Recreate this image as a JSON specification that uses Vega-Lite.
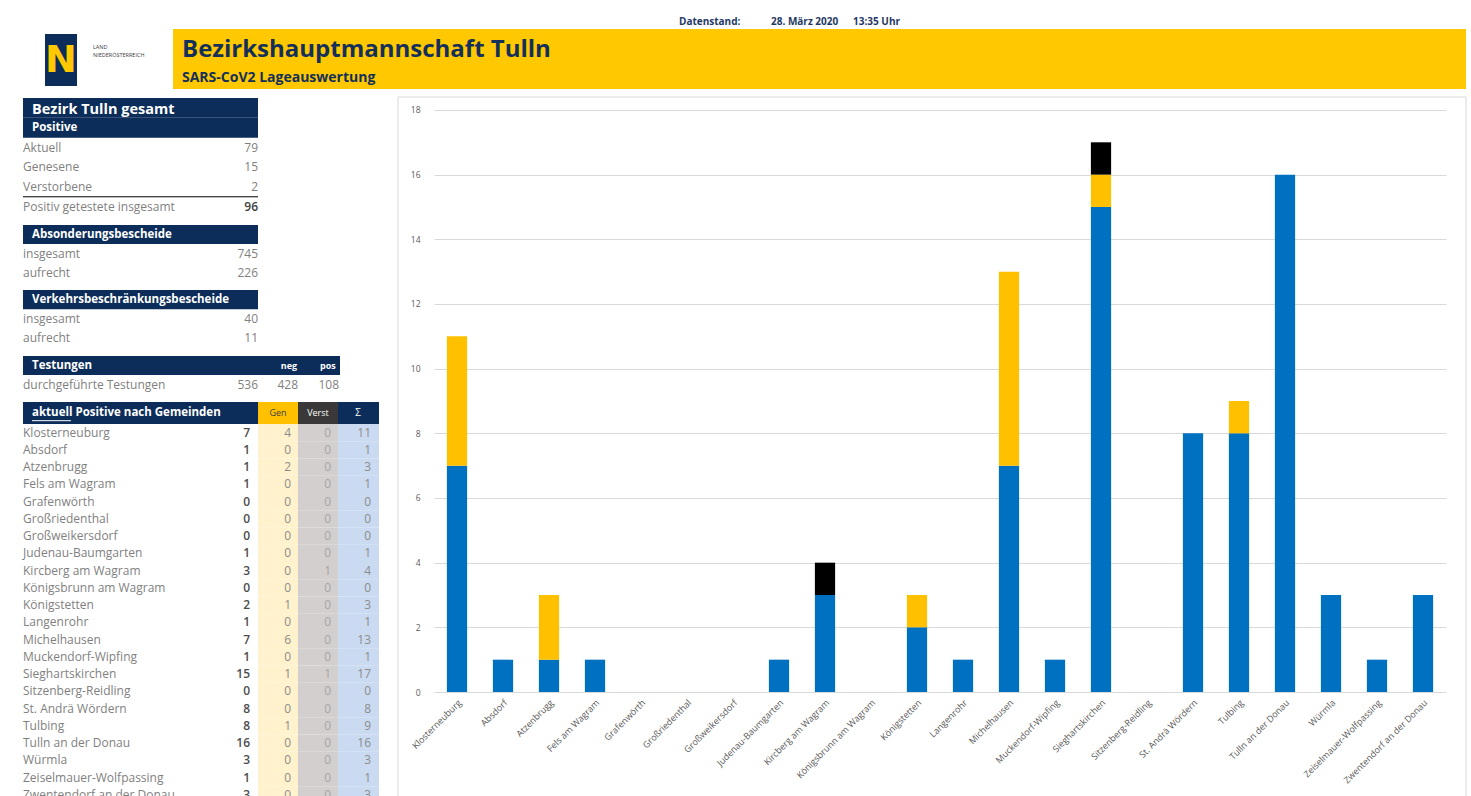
{
  "$schema": "https://vega.github.io/schema/vega-lite/v6.json",
  "padding": 0,
  "background": "white",
  "bounds": "flush",
  "spacing": 0,
  "config": {"view": {"stroke": null}, "font": "Open Sans"},
  "datasets": {
    "kopf": [
      {"role": "title", "text": "Bezirkshauptmannschaft Tulln"},
      {"role": "subtitle", "text": "SARS-CoV2 Lageauswertung"},
      {"role": "standlabel", "text": "Datenstand:"},
      {"role": "datum", "text": "28. März 2020"},
      {"role": "zeit", "text": "13:35 Uhr"},
      {"role": "logo", "text": "N"},
      {"role": "land1", "text": "LAND"},
      {"role": "land2", "text": "NIEDERÖSTERREICH"}
    ],
    "summary": [
      {"sec": "A", "id": "A1", "label": "Bezirk Tulln gesamt", "kind": "title"},
      {"sec": "A", "id": "A2", "label": "Positive", "kind": "head"},
      {"sec": "A", "id": "A3", "label": "Aktuell", "value": 79, "kind": "item"},
      {"sec": "A", "id": "A4", "label": "Genesene", "value": 15, "kind": "item"},
      {"sec": "A", "id": "A5", "label": "Verstorbene", "value": 2, "kind": "item"},
      {"sec": "A", "id": "A6", "label": "Positiv getestete insgesamt", "value": 96, "kind": "total"},
      {"sec": "B", "id": "B1", "label": "Absonderungsbescheide", "kind": "head"},
      {"sec": "B", "id": "B2", "label": "insgesamt", "value": 745, "kind": "item"},
      {"sec": "B", "id": "B3", "label": "aufrecht", "value": 226, "kind": "item"},
      {"sec": "C", "id": "C1", "label": "Verkehrsbeschränkungsbescheide", "kind": "head"},
      {"sec": "C", "id": "C2", "label": "insgesamt", "value": 40, "kind": "item"},
      {"sec": "C", "id": "C3", "label": "aufrecht", "value": 11, "kind": "item"},
      {"sec": "D", "id": "D1", "label": "Testungen", "kind": "head"},
      {"sec": "D", "id": "D2", "label": "durchgeführte Testungen", "value": 536, "neg": 428, "pos": 108, "kind": "item"},
      {"sec": "E", "id": "E1", "label": "aktuell Positive nach Gemeinden", "kind": "head"}
    ],
    "gemeinden": [
      {"name": "Klosterneuburg", "akt": 7, "gen": 4, "verst": 0, "sum": 11},
      {"name": "Absdorf", "akt": 1, "gen": 0, "verst": 0, "sum": 1},
      {"name": "Atzenbrugg", "akt": 1, "gen": 2, "verst": 0, "sum": 3},
      {"name": "Fels am Wagram", "akt": 1, "gen": 0, "verst": 0, "sum": 1},
      {"name": "Grafenwörth", "akt": 0, "gen": 0, "verst": 0, "sum": 0},
      {"name": "Großriedenthal", "akt": 0, "gen": 0, "verst": 0, "sum": 0},
      {"name": "Großweikersdorf", "akt": 0, "gen": 0, "verst": 0, "sum": 0},
      {"name": "Judenau-Baumgarten", "akt": 1, "gen": 0, "verst": 0, "sum": 1},
      {"name": "Kircberg am Wagram", "akt": 3, "gen": 0, "verst": 1, "sum": 4},
      {"name": "Königsbrunn am  Wagram", "akt": 0, "gen": 0, "verst": 0, "sum": 0},
      {"name": "Königstetten", "akt": 2, "gen": 1, "verst": 0, "sum": 3},
      {"name": "Langenrohr", "akt": 1, "gen": 0, "verst": 0, "sum": 1},
      {"name": "Michelhausen", "akt": 7, "gen": 6, "verst": 0, "sum": 13},
      {"name": "Muckendorf-Wipfing", "akt": 1, "gen": 0, "verst": 0, "sum": 1},
      {"name": "Sieghartskirchen", "akt": 15, "gen": 1, "verst": 1, "sum": 17},
      {"name": "Sitzenberg-Reidling", "akt": 0, "gen": 0, "verst": 0, "sum": 0},
      {"name": "St. Andrä Wördern", "akt": 8, "gen": 0, "verst": 0, "sum": 8},
      {"name": "Tulbing", "akt": 8, "gen": 1, "verst": 0, "sum": 9},
      {"name": "Tulln an der Donau", "akt": 16, "gen": 0, "verst": 0, "sum": 16},
      {"name": "Würmla", "akt": 3, "gen": 0, "verst": 0, "sum": 3},
      {"name": "Zeiselmauer-Wolfpassing", "akt": 1, "gen": 0, "verst": 0, "sum": 1},
      {"name": "Zwentendorf an der Donau", "akt": 3, "gen": 0, "verst": 0, "sum": 3}
    ]
  },
  "vconcat": [
    {
      "width": 1471,
      "height": 98,
      "data": {"name": "kopf"},
      "layer": [
        {
          "transform": [{"filter": "datum.role == 'title'"}],
          "mark": {"type": "rect", "filled": false, "stroke": "#d9d9d9", "strokeWidth": 1},
          "encoding": {
            "x": {"datum": 398, "type": "quantitative", "scale": {"domain": [0, 1471], "nice": false, "zero": false}, "axis": null},
            "x2": {"datum": 1466},
            "y": {"datum": 97, "type": "quantitative", "scale": {"domain": [0, 98], "nice": false, "zero": false, "reverse": true}, "axis": null},
            "y2": {"datum": 800}
          }
        },
        {
          "transform": [{"filter": "datum.role == 'title'"}],
          "mark": {"type": "rect", "fill": "#FFC800"},
          "encoding": {
            "x": {"datum": 173, "type": "quantitative"},
            "x2": {"datum": 1466},
            "y": {"datum": 29, "type": "quantitative"},
            "y2": {"datum": 89}
          }
        },
        {
          "transform": [{"filter": "datum.role == 'logo'"}],
          "mark": {"type": "rect", "fill": "#0c2d5a"},
          "encoding": {
            "x": {"datum": 45, "type": "quantitative"},
            "x2": {"datum": 77},
            "y": {"datum": 34, "type": "quantitative"},
            "y2": {"datum": 86}
          }
        },
        {
          "transform": [{"filter": "datum.role == 'logo'"}],
          "mark": {"type": "text", "color": "#FFC800", "fontSize": 38, "fontWeight": "bold", "align": "center", "baseline": "middle", "font": "DejaVu Sans"},
          "encoding": {
            "x": {"datum": 61, "type": "quantitative"},
            "y": {"datum": 61, "type": "quantitative"},
            "text": {"field": "text"}
          }
        },
        {
          "transform": [{"filter": "datum.role == 'land1'"}],
          "mark": {"type": "text", "color": "#404040", "fontSize": 5.5, "align": "left", "baseline": "middle"},
          "encoding": {
            "x": {"datum": 93, "type": "quantitative"},
            "y": {"datum": 47, "type": "quantitative"},
            "text": {"field": "text"}
          }
        },
        {
          "transform": [{"filter": "datum.role == 'land2'"}],
          "mark": {"type": "text", "color": "#404040", "fontSize": 5.5, "align": "left", "baseline": "middle"},
          "encoding": {
            "x": {"datum": 93, "type": "quantitative"},
            "y": {"datum": 55, "type": "quantitative"},
            "text": {"field": "text"}
          }
        },
        {
          "transform": [{"filter": "datum.role == 'standlabel'"}],
          "mark": {"type": "text", "color": "#1f3864", "fontSize": 10, "fontWeight": "bold", "align": "left", "baseline": "middle"},
          "encoding": {
            "x": {"datum": 679, "type": "quantitative"},
            "y": {"datum": 22, "type": "quantitative"},
            "text": {"field": "text"}
          }
        },
        {
          "transform": [{"filter": "datum.role == 'datum'"}],
          "mark": {"type": "text", "color": "#1f3864", "fontSize": 10, "fontWeight": "bold", "align": "left", "baseline": "middle"},
          "encoding": {
            "x": {"datum": 771, "type": "quantitative"},
            "y": {"datum": 22, "type": "quantitative"},
            "text": {"field": "text"}
          }
        },
        {
          "transform": [{"filter": "datum.role == 'zeit'"}],
          "mark": {"type": "text", "color": "#1f3864", "fontSize": 10, "fontWeight": "bold", "align": "left", "baseline": "middle"},
          "encoding": {
            "x": {"datum": 853, "type": "quantitative"},
            "y": {"datum": 22, "type": "quantitative"},
            "text": {"field": "text"}
          }
        },
        {
          "transform": [{"filter": "datum.role == 'title'"}],
          "mark": {"type": "text", "color": "#14305a", "fontSize": 24, "fontWeight": "bold", "align": "left", "baseline": "middle"},
          "encoding": {
            "x": {"datum": 182, "type": "quantitative"},
            "y": {"datum": 50, "type": "quantitative"},
            "text": {"field": "text"}
          }
        },
        {
          "transform": [{"filter": "datum.role == 'subtitle'"}],
          "mark": {"type": "text", "color": "#14305a", "fontSize": 14, "fontWeight": "bold", "align": "left", "baseline": "middle"},
          "encoding": {
            "x": {"datum": 182, "type": "quantitative"},
            "y": {"datum": 78, "type": "quantitative"},
            "text": {"field": "text"}
          }
        }
      ]
    },
    {
      "spacing": 30,
      "bounds": "full",
      "hconcat": [
        {
          "spacing": 0,
          "bounds": "full",
          "vconcat": [
            {
              "spacing": 8,
              "bounds": "full",
              "vconcat": [
                {
                  "width": 380,
                  "height": 119,
                  "data": {"name": "summary"},
                  "transform": [{"filter": "datum.sec == 'A'"}],
                  "encoding": {"y": {"field": "id", "type": "nominal", "sort": null, "scale": {"type": "band", "domain": ["A1", "A2", "A3", "A4", "A5", "A6"], "paddingInner": 0, "paddingOuter": 0}, "axis": null}},
                  "layer": [
                    {
                      "transform": [{"filter": "datum.kind == 'title' || datum.kind == 'head'"}],
                      "mark": {"type": "rect", "fill": "#0c2d5a"},
                      "encoding": {"x": {"datum": 23, "type": "quantitative", "scale": {"domain": [0, 380], "nice": false, "zero": false}, "axis": null}, "x2": {"datum": 258}}
                    },
                    {
                      "transform": [{"filter": "datum.kind == 'title'"}],
                      "mark": {"type": "text", "color": "white", "fontSize": 14.5, "fontWeight": "bold", "align": "left", "baseline": "middle", "dy": 2},
                      "encoding": {"x": {"datum": 32, "type": "quantitative"}, "text": {"field": "label"}}
                    },
                    {
                      "transform": [{"filter": "datum.kind == 'head'"}],
                      "mark": {"type": "text", "color": "white", "fontSize": 11.5, "fontWeight": "bold", "align": "left", "baseline": "middle"},
                      "encoding": {"x": {"datum": 32, "type": "quantitative"}, "text": {"field": "label"}}
                    },
                    {
                      "transform": [{"filter": "datum.kind == 'item' || datum.kind == 'total'"}],
                      "mark": {"type": "text", "color": "#7f7f7f", "fontSize": 12, "align": "left", "baseline": "middle"},
                      "encoding": {"x": {"datum": 23, "type": "quantitative"}, "text": {"field": "label"}}
                    },
                    {
                      "transform": [{"filter": "datum.kind == 'item'"}],
                      "mark": {"type": "text", "color": "#7f7f7f", "fontSize": 12, "align": "right", "baseline": "middle"},
                      "encoding": {"x": {"datum": 258, "type": "quantitative"}, "text": {"field": "value"}}
                    },
                    {
                      "transform": [{"filter": "datum.kind == 'total'"}],
                      "mark": {"type": "text", "color": "#404040", "fontSize": 12, "fontWeight": 600, "align": "right", "baseline": "middle"},
                      "encoding": {"x": {"datum": 258, "type": "quantitative"}, "text": {"field": "value"}}
                    },
                    {
                      "transform": [{"filter": "datum.id == 'A5'"}],
                      "mark": {"type": "rule", "color": "#000000", "strokeWidth": 1},
                      "encoding": {"x": {"datum": 23, "type": "quantitative"}, "x2": {"datum": 258}, "y": {"field": "id", "type": "nominal", "bandPosition": 0.98}}
                    }
                  ]
                },
                {
                  "width": 380,
                  "height": 57,
                  "data": {"name": "summary"},
                  "transform": [{"filter": "datum.sec == 'B'"}],
                  "encoding": {"y": {"field": "id", "type": "nominal", "sort": null, "scale": {"type": "band", "domain": ["B1", "B2", "B3"], "paddingInner": 0, "paddingOuter": 0}, "axis": null}},
                  "layer": [
                    {
                      "transform": [{"filter": "datum.kind == 'head'"}],
                      "mark": {"type": "rect", "fill": "#0c2d5a"},
                      "encoding": {"x": {"datum": 23, "type": "quantitative", "scale": {"domain": [0, 380], "nice": false, "zero": false}, "axis": null}, "x2": {"datum": 258}}
                    },
                    {
                      "transform": [{"filter": "datum.kind == 'head'"}],
                      "mark": {"type": "text", "color": "white", "fontSize": 11.5, "fontWeight": "bold", "align": "left", "baseline": "middle"},
                      "encoding": {"x": {"datum": 32, "type": "quantitative"}, "text": {"field": "label"}}
                    },
                    {
                      "transform": [{"filter": "datum.kind == 'item'"}],
                      "mark": {"type": "text", "color": "#7f7f7f", "fontSize": 12, "align": "left", "baseline": "middle"},
                      "encoding": {"x": {"datum": 23, "type": "quantitative"}, "text": {"field": "label"}}
                    },
                    {
                      "transform": [{"filter": "datum.kind == 'item'"}],
                      "mark": {"type": "text", "color": "#7f7f7f", "fontSize": 12, "align": "right", "baseline": "middle"},
                      "encoding": {"x": {"datum": 258, "type": "quantitative"}, "text": {"field": "value"}}
                    }
                  ]
                },
                {
                  "width": 380,
                  "height": 58,
                  "data": {"name": "summary"},
                  "transform": [{"filter": "datum.sec == 'C'"}],
                  "encoding": {"y": {"field": "id", "type": "nominal", "sort": null, "scale": {"type": "band", "domain": ["C1", "C2", "C3"], "paddingInner": 0, "paddingOuter": 0}, "axis": null}},
                  "layer": [
                    {
                      "transform": [{"filter": "datum.kind == 'head'"}],
                      "mark": {"type": "rect", "fill": "#0c2d5a"},
                      "encoding": {"x": {"datum": 23, "type": "quantitative", "scale": {"domain": [0, 380], "nice": false, "zero": false}, "axis": null}, "x2": {"datum": 258}}
                    },
                    {
                      "transform": [{"filter": "datum.kind == 'head'"}],
                      "mark": {"type": "text", "color": "white", "fontSize": 11.5, "fontWeight": "bold", "align": "left", "baseline": "middle"},
                      "encoding": {"x": {"datum": 32, "type": "quantitative"}, "text": {"field": "label"}}
                    },
                    {
                      "transform": [{"filter": "datum.kind == 'item'"}],
                      "mark": {"type": "text", "color": "#7f7f7f", "fontSize": 12, "align": "left", "baseline": "middle"},
                      "encoding": {"x": {"datum": 23, "type": "quantitative"}, "text": {"field": "label"}}
                    },
                    {
                      "transform": [{"filter": "datum.kind == 'item'"}],
                      "mark": {"type": "text", "color": "#7f7f7f", "fontSize": 12, "align": "right", "baseline": "middle"},
                      "encoding": {"x": {"datum": 258, "type": "quantitative"}, "text": {"field": "value"}}
                    }
                  ]
                },
                {
                  "width": 380,
                  "height": 38,
                  "data": {"name": "summary"},
                  "transform": [{"filter": "datum.sec == 'D'"}],
                  "encoding": {"y": {"field": "id", "type": "nominal", "sort": null, "scale": {"type": "band", "domain": ["D1", "D2"], "paddingInner": 0, "paddingOuter": 0}, "axis": null}},
                  "layer": [
                    {
                      "transform": [{"filter": "datum.kind == 'head'"}],
                      "mark": {"type": "rect", "fill": "#0c2d5a"},
                      "encoding": {"x": {"datum": 23, "type": "quantitative", "scale": {"domain": [0, 380], "nice": false, "zero": false}, "axis": null}, "x2": {"datum": 340}}
                    },
                    {
                      "transform": [{"filter": "datum.kind == 'head'"}],
                      "mark": {"type": "text", "color": "white", "fontSize": 11.5, "fontWeight": "bold", "align": "left", "baseline": "middle"},
                      "encoding": {"x": {"datum": 32, "type": "quantitative"}, "text": {"field": "label"}}
                    },
                    {
                      "transform": [{"filter": "datum.kind == 'head'"}],
                      "mark": {"type": "text", "color": "white", "fontSize": 9, "fontWeight": "bold", "align": "center", "baseline": "middle", "text": "neg"},
                      "encoding": {"x": {"datum": 289, "type": "quantitative"}}
                    },
                    {
                      "transform": [{"filter": "datum.kind == 'head'"}],
                      "mark": {"type": "text", "color": "white", "fontSize": 9, "fontWeight": "bold", "align": "left", "baseline": "middle", "text": "pos"},
                      "encoding": {"x": {"datum": 320, "type": "quantitative"}}
                    },
                    {
                      "transform": [{"filter": "datum.kind == 'item'"}],
                      "mark": {"type": "text", "color": "#7f7f7f", "fontSize": 12, "align": "left", "baseline": "middle"},
                      "encoding": {"x": {"datum": 23, "type": "quantitative"}, "text": {"field": "label"}}
                    },
                    {
                      "transform": [{"filter": "datum.kind == 'item'"}],
                      "mark": {"type": "text", "color": "#7f7f7f", "fontSize": 12, "align": "right", "baseline": "middle"},
                      "encoding": {"x": {"datum": 258, "type": "quantitative"}, "text": {"field": "value"}}
                    },
                    {
                      "transform": [{"filter": "datum.kind == 'item'"}],
                      "mark": {"type": "text", "color": "#7f7f7f", "fontSize": 12, "align": "right", "baseline": "middle"},
                      "encoding": {"x": {"datum": 298, "type": "quantitative"}, "text": {"field": "neg"}}
                    },
                    {
                      "transform": [{"filter": "datum.kind == 'item'"}],
                      "mark": {"type": "text", "color": "#7f7f7f", "fontSize": 12, "align": "right", "baseline": "middle"},
                      "encoding": {"x": {"datum": 339, "type": "quantitative"}, "text": {"field": "pos"}}
                    }
                  ]
                },
                {
                  "width": 380,
                  "height": 22,
                  "data": {"name": "summary"},
                  "transform": [{"filter": "datum.sec == 'E'"}],
                  "encoding": {"y": {"field": "id", "type": "nominal", "sort": null, "scale": {"type": "band", "domain": ["E1"], "paddingInner": 0, "paddingOuter": 0}, "axis": null}},
                  "layer": [
                    {
                      "mark": {"type": "rect", "fill": "#0c2d5a"},
                      "encoding": {"x": {"datum": 23, "type": "quantitative", "scale": {"domain": [0, 380], "nice": false, "zero": false}, "axis": null}, "x2": {"datum": 258}}
                    },
                    {
                      "mark": {"type": "rect", "fill": "#FFC000"},
                      "encoding": {"x": {"datum": 258, "type": "quantitative"}, "x2": {"datum": 298}}
                    },
                    {
                      "mark": {"type": "rect", "fill": "#3a3838"},
                      "encoding": {"x": {"datum": 298, "type": "quantitative"}, "x2": {"datum": 338}}
                    },
                    {
                      "mark": {"type": "rect", "fill": "#0c2d5a"},
                      "encoding": {"x": {"datum": 338, "type": "quantitative"}, "x2": {"datum": 379}}
                    },
                    {
                      "mark": {"type": "text", "color": "white", "fontSize": 11.5, "fontWeight": "bold", "align": "left", "baseline": "middle"},
                      "encoding": {"x": {"datum": 32, "type": "quantitative"}, "text": {"field": "label"}}
                    },
                    {
                      "mark": {"type": "rule", "color": "white", "strokeWidth": 1},
                      "encoding": {"x": {"datum": 32, "type": "quantitative"}, "x2": {"datum": 71}, "y": {"field": "id", "type": "nominal", "bandPosition": 0.85}}
                    },
                    {
                      "mark": {"type": "text", "color": "#404040", "fontSize": 9, "align": "center", "baseline": "middle", "text": "Gen"},
                      "encoding": {"x": {"datum": 278, "type": "quantitative"}}
                    },
                    {
                      "mark": {"type": "text", "color": "white", "fontSize": 9, "align": "center", "baseline": "middle", "text": "Verst"},
                      "encoding": {"x": {"datum": 318, "type": "quantitative"}}
                    },
                    {
                      "mark": {"type": "text", "color": "white", "fontSize": 10, "align": "center", "baseline": "middle", "text": "Σ"},
                      "encoding": {"x": {"datum": 358, "type": "quantitative"}}
                    }
                  ]
                }
              ]
            },
            {
              "width": 380,
              "height": 379.5,
              "data": {"name": "gemeinden"},
              "encoding": {"y": {"field": "name", "type": "nominal", "sort": null, "scale": {"type": "band", "paddingInner": 0, "paddingOuter": 0}, "axis": null}},
              "layer": [
                {
                  "mark": {"type": "rect", "fill": "#FFF2CC"},
                  "encoding": {"x": {"datum": 258, "type": "quantitative", "scale": {"domain": [0, 380], "nice": false, "zero": false}, "axis": null}, "x2": {"datum": 298}}
                },
                {
                  "mark": {"type": "rect", "fill": "#D3CFCF"},
                  "encoding": {"x": {"datum": 298, "type": "quantitative"}, "x2": {"datum": 338}}
                },
                {
                  "mark": {"type": "rect", "fill": "#C9DAF1"},
                  "encoding": {"x": {"datum": 338, "type": "quantitative"}, "x2": {"datum": 379}}
                },
                {
                  "mark": {"type": "text", "color": "#7f7f7f", "fontSize": 12, "align": "left", "baseline": "middle"},
                  "encoding": {"x": {"datum": 23, "type": "quantitative"}, "text": {"field": "name"}}
                },
                {
                  "mark": {"type": "text", "color": "#4d4d4d", "fontSize": 12, "fontWeight": 600, "align": "right", "baseline": "middle"},
                  "encoding": {"x": {"datum": 250, "type": "quantitative"}, "text": {"field": "akt"}}
                },
                {
                  "mark": {"type": "text", "color": "#8c8c8c", "fontSize": 12, "align": "right", "baseline": "middle"},
                  "encoding": {"x": {"datum": 291, "type": "quantitative"}, "text": {"field": "gen"}}
                },
                {
                  "mark": {"type": "text", "color": "#a6a6a6", "fontSize": 12, "align": "right", "baseline": "middle"},
                  "encoding": {"x": {"datum": 331, "type": "quantitative"}, "text": {"field": "verst"}}
                },
                {
                  "mark": {"type": "text", "color": "#8c8c8c", "fontSize": 12, "align": "right", "baseline": "middle"},
                  "encoding": {"x": {"datum": 371, "type": "quantitative"}, "text": {"field": "sum"}}
                }
              ]
            }
          ]
        },
        {
          "width": 1012,
          "height": 594,
          "data": {"name": "gemeinden"},
          "transform": [{"fold": ["akt", "gen", "verst"], "as": ["status", "anzahl"]}],
          "mark": {"type": "bar"},
          "encoding": {
            "x": {
              "field": "name", "type": "nominal", "sort": null,
              "scale": {"paddingInner": 0.56, "paddingOuter": 0.28},
              "axis": {"title": null, "labelAngle": -45, "labelFontSize": 9, "labelColor": "#595959", "ticks": false, "domain": false, "labelPadding": 6}
            },
            "y": {
              "field": "anzahl", "type": "quantitative", "stack": "zero",
              "scale": {"domain": [0, 18.37], "nice": false},
              "axis": {"title": null, "values": [0, 2, 4, 6, 8, 10, 12, 14, 16, 18], "grid": true, "gridColor": "#d9d9d9", "domain": false, "ticks": false, "labelFontSize": 8.5, "labelColor": "#595959", "labelPadding": 14}
            },
            "color": {"field": "status", "type": "nominal", "scale": {"domain": ["akt", "gen", "verst"], "range": ["#0070C0", "#FFC000", "#000000"]}, "legend": null},
            "order": {"field": "status"}
          }
        }
      ]
    }
  ]
}
